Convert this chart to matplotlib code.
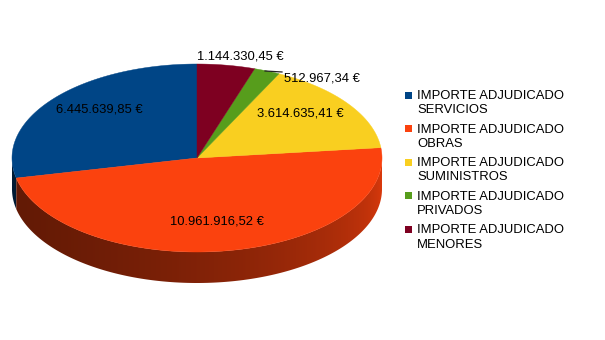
import numpy as np
import matplotlib
matplotlib.use("Agg")
import matplotlib.pyplot as plt
from matplotlib.patches import Polygon, Rectangle

# ---- data ----
categories = ["IMPORTE ADJUDICADO\nSERVICIOS", "IMPORTE ADJUDICADO\nOBRAS",
              "IMPORTE ADJUDICADO\nSUMINISTROS", "IMPORTE ADJUDICADO\nPRIVADOS",
              "IMPORTE ADJUDICADO\nMENORES"]
values = [6445639.85, 10961916.52, 3614635.41, 512967.34, 1144330.45]
colors = ["#004586", "#fb420e", "#f9cf20", "#579d1c", "#7e0021"]


def fmt_eur(v):
    s = f"{v:,.2f}"  # 1,234.56
    s = s.replace(",", "X").replace(".", ",").replace("X", ".")
    return s + " €"


value_labels = [fmt_eur(v) for v in values]

# ---- layout ----
plt.rcParams['font.family'] = ['Liberation Sans', 'DejaVu Sans']
FS = 9.4
W, H = 605, 340
cx, cy, rx, ry, depth = 197, 158, 185, 94, 31

fig = plt.figure(figsize=(W / 100, H / 100), dpi=100)
ax = fig.add_axes([0, 0, 1, 1])
ax.set_xlim(0, W)
ax.set_ylim(H, 0)
ax.axis('off')


def pt(t_deg, r=1.0):
    t = np.radians(t_deg)
    return cx + r * rx * np.cos(t), cy - r * ry * np.sin(t)


def shade(t_deg):
    u = ((t_deg % 360) - 180) / 180.0
    return 0.39 + 0.5 * u ** 2


total = sum(values)
fracs = [v / total for v in values]
starts = []
a = 90.0
for f in fracs:
    starts.append(a)
    a += f * 360.0

# per-column shading factor of the side wall (front half: 180..360 deg)
xs = np.arange(W) + 0.5
uu = np.clip((xs - cx) / rx, -1, 1)
t_col = 360 - np.degrees(np.arccos(uu))
shade_col = shade(t_col)

# side walls (front half only), smooth gradient clipped to each slice's wall
for f, a0, col in zip(fracs, starts, colors):
    a1 = a0 + f * 360.0
    for lo, hi in ((180, 360), (540, 720)):
        s0, s1 = max(a0, lo), min(a1, hi)
        if s1 <= s0:
            continue
        ts = np.linspace(s0, s1, max(3, int((s1 - s0) * 2)))
        top = [pt(t) for t in ts]
        bot = [(x, y + depth) for x, y in top[::-1]]
        poly = Polygon(top + bot, closed=True, facecolor='none', edgecolor='none')
        ax.add_patch(poly)
        base = np.array(matplotlib.colors.to_rgb(col))
        img = np.clip(base[None, None, :] * shade_col[None, :, None], 0, 1)
        img = np.repeat(img, H, axis=0)
        im = ax.imshow(img, extent=(0, W, H, 0), interpolation='bilinear',
                       aspect='auto', zorder=1)
        im.set_clip_path(poly)

ax.set_xlim(0, W)
ax.set_ylim(H, 0)

# top face
for f, a0, col in zip(fracs, starts, colors):
    a1 = a0 + f * 360.0
    ts = np.linspace(a0, a1, max(3, int((a1 - a0) * 2)))
    pts = [(cx, cy)] + [pt(t) for t in ts]
    ax.add_patch(Polygon(pts, closed=True, facecolor=col, edgecolor=col,
                         linewidth=0.3, zorder=2))

# value labels
for i, (f, a0, lab) in enumerate(zip(fracs, starts, value_labels)):
    mid = a0 + f * 180.0
    if f > 0.1:
        x = cx + 0.68 * rx * np.cos(np.radians(mid))
        y = cy - 5 - 0.74 * ry * np.sin(np.radians(mid))
        ax.text(x, y, lab, ha='center', va='center', fontsize=FS, color='black', zorder=5)
    else:
        ex, ey = pt(mid)
        if f < 0.035:
            ax.plot([ex - 2, ex + 15], [ey, ey + 1], color='#222222', lw=0.9, zorder=5)
            ax.text(ex + 17, ey + 8, lab, ha='left', va='center', fontsize=FS,
                    color='black', zorder=5)
        else:
            ax.text(ex + 14, ey - 9, lab, ha='center', va='center', fontsize=FS,
                    color='black', zorder=5)

# legend
lx, ly, step = 405, 95, 33.6
for i, (cat, col) in enumerate(zip(categories, colors)):
    y = ly + i * step
    ax.add_patch(Rectangle((lx, y - 3.5), 7, 7, facecolor=col, edgecolor='none'))
    ax.text(lx + 12, y - 5, cat, ha='left', va='top', fontsize=FS, color='black',
            linespacing=1.25)

fig.savefig("out.png", dpi=100)
